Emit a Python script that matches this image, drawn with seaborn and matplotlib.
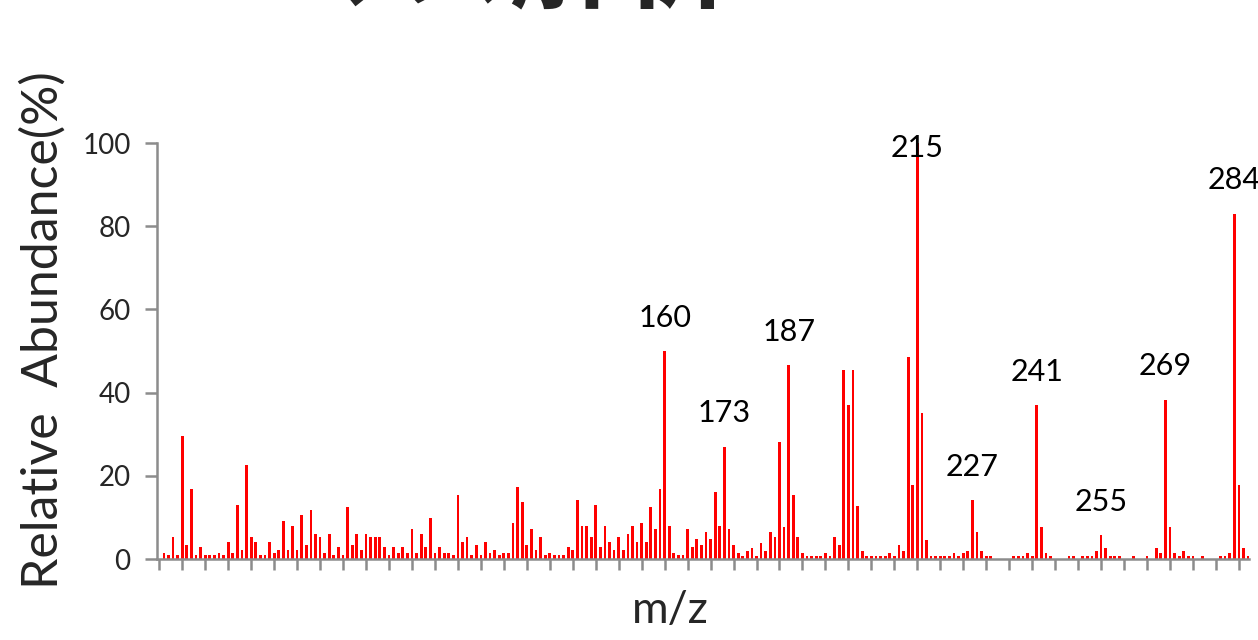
import matplotlib
matplotlib.use("Agg")
import matplotlib.pyplot as plt
import seaborn as sns
import pandas as pd

# --- dados: espectro de massas (m/z 50..287) ---
mz = list(range(50, 288))
abundance = [
    0, 1.5, 0.9, 5.4, 0.9, 29.6, 3.4, 16.8, 0.9, 2.8,          # 50-59
    0.9, 0.9, 0.9, 1.5, 0.9, 4.1, 1.5, 13.0, 2.2, 22.6,        # 60-69
    5.4, 4.1, 0.9, 0.9, 4.1, 1.5, 2.2, 9.2, 2.2, 7.9,          # 70-79
    2.2, 10.5, 3.4, 11.8, 6.0, 5.4, 1.5, 6.0, 0.9, 2.8,        # 80-89
    0.9, 12.4, 3.4, 6.0, 2.2, 6.0, 5.4, 5.4, 5.4, 2.8,         # 90-99
    0.9, 2.8, 1.5, 2.8, 1.5, 7.3, 1.5, 6.0, 2.8, 9.9,          # 100-109
    1.5, 2.8, 1.5, 1.5, 0.9, 15.5, 4.1, 5.4, 0.9, 3.4,         # 110-119
    0.9, 4.1, 1.5, 2.2, 0.9, 1.5, 1.5, 8.6, 17.4, 13.6,        # 120-129
    3.4, 7.3, 2.2, 5.4, 0.9, 1.5, 0.9, 0.9, 0.9, 2.8,          # 130-139
    2.2, 14.3, 7.9, 7.9, 5.4, 13.0, 2.8, 7.9, 4.1, 2.2,        # 140-149
    5.4, 2.2, 6.0, 7.9, 4.1, 8.6, 4.1, 12.4, 7.3, 16.8,        # 150-159
    50.0, 7.9, 1.5, 0.9, 0.9, 7.3, 2.8, 4.7, 3.4, 6.6,         # 160-169
    4.7, 16.2, 7.9, 27.0, 7.3, 3.3, 1.4, 0.7, 2.0, 2.6,        # 170-179
    0.7, 3.9, 2.0, 6.5, 5.2, 28.1, 7.8, 46.6, 15.4, 5.2,       # 180-189
    1.4, 0.7, 0.7, 0.7, 0.7, 1.4, 0.7, 5.2, 3.3, 45.4,         # 190-199
    37.1, 45.4, 12.8, 2.0, 0.7, 0.7, 0.7, 0.7, 0.7, 1.4,       # 200-209
    0.7, 3.3, 2.0, 48.5, 17.9, 100.0, 35.1, 4.6, 0.7, 0.7,     # 210-219
    0.7, 0.7, 0.7, 1.4, 0.7, 1.4, 2.0, 14.2, 6.5, 2.0,         # 220-229
    0.7, 0.7, 0, 0, 0, 0, 0.7, 0.7, 0.7, 1.4,                  # 230-239
    0.7, 37.0, 7.8, 1.4, 0.7, 0, 0, 0, 0.7, 0.7,               # 240-249
    0, 0.7, 0.7, 0.7, 2.0, 5.8, 2.6, 0.7, 0.7, 0.7,            # 250-259
    0, 0, 0.7, 0, 0, 0.7, 0, 2.6, 1.4, 38.3,                   # 260-269
    7.8, 1.4, 0.7, 2.0, 0.7, 0.7, 0, 0.7, 0, 0,                # 270-279
    0, 0.7, 0.7, 1.4, 83.0, 17.9, 2.6, 0.7,                    # 280-287
]
peak_labels = [160, 173, 187, 215, 227, 241, 255, 269, 284]
y_ticks = [0, 20, 40, 60, 80, 100]

df = pd.DataFrame({"mz": mz, "abundance": abundance})

sns.set_style("white")
plt.rcParams["font.family"] = ["Lato", "Noto Sans CJK JP", "DejaVu Sans"]

fig = plt.figure(figsize=(12.58, 6.4), dpi=100)
ax = fig.add_axes([157 / 1258, 1 - 559 / 640, (1249 - 157) / 1258, (559 - 143) / 640])

sns.barplot(data=df, x="mz", y="abundance", native_scale=True, color="#FF0000",
            saturation=1, width=0.6, linewidth=0, edgecolor="none", ax=ax)

# rótulos dos picos
lookup = dict(zip(mz, abundance))
for p in peak_labels:
    y = min(lookup[p] + 8, 98.8)
    ax.text(p, y, str(p), ha="center", va="center", fontsize=22, color="black")

ax.set_xlim(49.5, 287.2)
ax.set_ylim(0, 100)
ax.set_yticks(y_ticks)
ax.set_xticks(list(range(50, 290, 5)))
ax.set_xticklabels([])

axis_gray = "#8C8C8C"
for s in ["top", "right"]:
    ax.spines[s].set_visible(False)
for s in ["left", "bottom"]:
    ax.spines[s].set_color(axis_gray)
    ax.spines[s].set_linewidth(1.8)
ax.tick_params(axis="y", length=9, width=1.8, color=axis_gray, labelsize=20, pad=10, direction="out", left=True)
ax.tick_params(axis="x", length=8, width=1.8, color=axis_gray, direction="out", bottom=True)

ax.set_ylabel("Relative  Abundance(%)", fontsize=36)
ax.yaxis.set_label_coords(-0.083, 0.55)
ax.set_xlabel("m/z", fontsize=32)
ax.xaxis.set_label_coords(0.47, -0.075)

# título cortado no topo
fig.text(0.405, 1 + 2 / 640, "マス解析", fontsize=80, fontweight="bold",
         family=["Noto Sans CJK JP"], ha="center", va="baseline")

fig.savefig("out.png", dpi=100)
